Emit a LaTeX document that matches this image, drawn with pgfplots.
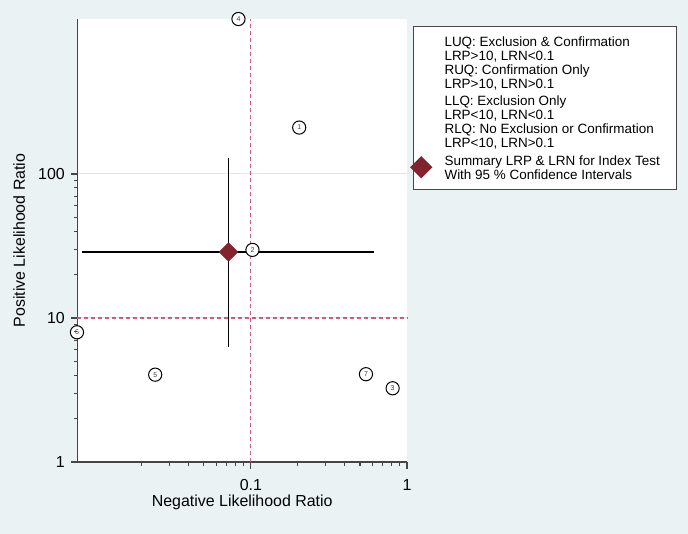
\documentclass[border=0pt]{standalone}
\usepackage{pgfplots}
\pgfplotsset{compat=1.18}
\usepackage{fontspec}
\setmainfont{Liberation Sans}
\definecolor{bgcol}{RGB}{234,242,243}
\definecolor{refcol}{RGB}{205,90,130}
\definecolor{sumcol}{RGB}{130,35,45}
\definecolor{gridcol}{RGB}{222,232,236}
\definecolor{axcol}{RGB}{70,70,70}

\begin{document}
\begin{tikzpicture}
\fill[bgcol] (0,0) rectangle (688bp,534bp);
\begin{axis}[
    at={(77.5bp,72bp)}, anchor=south west,
    scale only axis, width=329.5bp, height=443bp,
    xmode=log, ymode=log,
    xmin=0.00776, xmax=1, ymin=1, ymax=1191,
    clip=false,
    axis x line*=bottom, axis y line*=left,
    axis line style={axcol, line width=1.1bp, -},
    axis background/.style={fill=white},
    xtick={0.1,1}, xticklabels={0.1,1},
    minor xtick={0.02,0.03,0.04,0.05,0.06,0.07,0.08,0.09,0.2,0.3,0.4,0.5,0.6,0.7,0.8,0.9},
    ytick={1,10,100}, yticklabels={1,10,100},
    minor ytick={2,3,4,5,6,7,8,9,20,30,40,50,60,70,80,90},
    tick align=outside,
    major tick length=6.5bp, minor tick length=3.5bp,
    tick style={axcol, line width=1.1bp},
    % tick marks, drawn along the two axis lines
    extra description/.code={
        \foreach \t in {0.1,1} {\draw[axcol, line width=1.1bp] (axis cs:\t,1) -- ++(0bp,-6.5bp);}
        \foreach \t in {0.02,0.03,0.04,0.05,0.06,0.07,0.08,0.09,0.2,0.3,0.4,0.5,0.6,0.7,0.8,0.9}
            {\draw[axcol, line width=1.1bp] (axis cs:\t,1) -- ++(0bp,-3.5bp);}
        \foreach \t in {1,10,100} {\draw[axcol, line width=1.1bp] (axis cs:0.00776,\t) -- ++(-6.5bp,0bp);}
        \foreach \t in {2,3,4,5,6,7,8,9,20,30,40,50,60,70,80,90}
            {\draw[axcol, line width=1.1bp] (axis cs:0.00776,\t) -- ++(-3.5bp,0bp);}
    },
    ymajorgrids, y grid style={gridcol, line width=1bp},
    ticklabel style={font=\fontsize{16}{16}\selectfont, inner sep=0pt},
    xticklabel style={anchor=north, yshift=-10.5bp},
    yticklabel style={anchor=east, xshift=-6bp},
    xlabel={Negative Likelihood Ratio},
    ylabel={Positive Likelihood Ratio},
    label style={font=\fontsize{16}{16}\selectfont, inner sep=0pt},
    xlabel style={at={([yshift=-44.5bp]axis description cs:0.5,0)}, anchor=base},
    ylabel style={at={([xshift=-52.5bp]axis description cs:0,0.5)}, anchor=base},
    legend style={at={(axis description cs:1.0173,0.985)}, anchor=north west,
        draw=axcol, line width=1.1bp, fill=white,
        inner xsep=16.3bp, inner ysep=10.5bp, row sep=6bp, column sep=0bp,
        font=\fontsize{13.5}{14}\selectfont,
        nodes={inner sep=0bp, text depth=, align=left}},
    legend cell align=left,
]
% reference lines
\addplot[refcol, line width=1.1bp, dash pattern=on 4bp off 3bp, forget plot]
    coordinates {(0.1,1) (0.1,1191)};
\addplot[refcol, line width=1.1bp, dash pattern=on 4bp off 3bp, forget plot]
    coordinates {(0.00776,10) (1,10)};

\addlegendimage{empty legend}
\addlegendentry{LUQ: Exclusion \& Confirmation\\LRP>10, LRN<0.1\\RUQ: Confirmation Only\\LRP>10, LRN>0.1}
\addlegendimage{empty legend}
\addlegendentry{LLQ: Exclusion Only\\LRP<10, LRN<0.1\\RLQ: No Exclusion or Confirmation\\LRP<10, LRN>0.1}

% summary point
\addplot[only marks, mark=square*, mark size=6.6bp,
    mark options={rotate=45, fill=sumcol, draw=sumcol},
    legend image code/.code={
        \path[draw=none, fill=none] (0bp,-5bp) rectangle (15bp,5bp);
        \draw[overlay, mark=square*, mark size=7.3bp,
            mark options={rotate=45, fill=sumcol, draw=sumcol}]
            plot coordinates {(-8.3bp,0bp)};}]
    coordinates {(0.0719,28.7)};
\addlegendentry{Summary LRP \& LRN for Index Test\\With 95 \% Confidence Intervals}

% confidence intervals
\addplot[black, line width=1.4bp, forget plot] coordinates {(0.0083,28.7) (0.617,28.7)};
\addplot[black, line width=1.4bp, forget plot] coordinates {(0.0719,6.27) (0.0719,128.5)};

% studies
\addplot[only marks, mark=*, mark size=6.6bp,
    mark options={fill=white, draw=black, line width=1bp},
    point meta=explicit symbolic, nodes near coords,
    nodes near coords align=center,
    every node near coord/.append style={font=\fontsize{7}{7}\selectfont, text=black!75, inner sep=0pt},
    forget plot]
    coordinates {
    (0.204,210) [1]
    (0.1024,29.7) [2]
    (0.809,3.25) [3]
    (0.0833,1191) [4]
    (0.0244,4.04) [5]
    (0.0077,7.96) [6]
    (0.546,4.07) [7]
    };
\end{axis}
\end{tikzpicture}
\end{document}
